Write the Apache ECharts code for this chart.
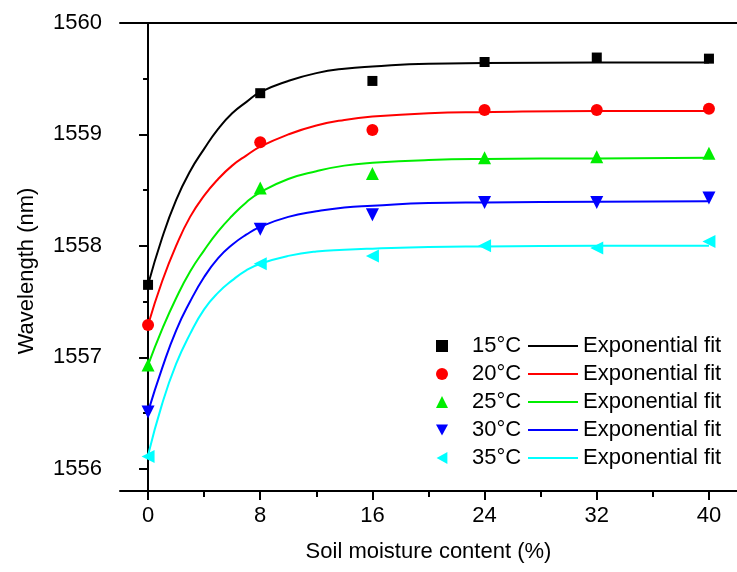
<!DOCTYPE html>
<html><head><meta charset="utf-8">
<script src="https://cdn.jsdelivr.net/npm/echarts@6/dist/echarts.min.js"></script>
<style>html,body{margin:0;padding:0;background:#fff}#c{width:737px;height:572px}</style>
</head><body><div id="c"></div>
<script>
// ---- data ----
var moisture = [0, 8, 16, 24, 32, 40];
var tempLabels = ['15°C', '20°C', '25°C', '30°C', '35°C'];
var w15 = [1557.65, 1559.37, 1559.48, 1559.65, 1559.69, 1559.68];
var w20 = [1557.29, 1558.93, 1559.04, 1559.22, 1559.22, 1559.23];
var w25 = [1556.93, 1558.52, 1558.65, 1558.79, 1558.80, 1558.83];
var w30 = [1556.51, 1558.15, 1558.28, 1558.39, 1558.39, 1558.43];
var w35 = [1556.11, 1557.84, 1557.91, 1558.00, 1557.98, 1558.04];
// exponential-fit curves
var fitX  = [0, 1, 2, 3, 4, 5, 6, 7, 8, 10, 12, 14, 16, 20, 24, 32, 40];
var fit15 = [1557.65, 1558.07, 1558.41, 1558.67, 1558.87, 1559.05, 1559.19, 1559.29, 1559.38, 1559.48, 1559.55, 1559.59, 1559.61, 1559.635, 1559.64, 1559.645, 1559.645];
var fit20 = [1557.29, 1557.68, 1558.00, 1558.26, 1558.45, 1558.60, 1558.72, 1558.81, 1558.89, 1559.00, 1559.08, 1559.13, 1559.16, 1559.19, 1559.20, 1559.21, 1559.21];
var fit25 = [1556.93, 1557.25, 1557.53, 1557.77, 1557.96, 1558.13, 1558.27, 1558.39, 1558.48, 1558.60, 1558.67, 1558.72, 1558.745, 1558.77, 1558.78, 1558.785, 1558.79];
var fit30 = [1556.51, 1556.90, 1557.24, 1557.50, 1557.72, 1557.89, 1558.01, 1558.10, 1558.17, 1558.26, 1558.31, 1558.345, 1558.36, 1558.385, 1558.39, 1558.395, 1558.40];
var fit35 = [1556.12, 1556.58, 1556.94, 1557.21, 1557.43, 1557.58, 1557.69, 1557.78, 1557.84, 1557.91, 1557.95, 1557.965, 1557.975, 1557.99, 1557.995, 1558.00, 1558.00];
var xMajor = [0, 8, 16, 24, 32, 40];
var xMinor = [4, 12, 20, 28, 36];
var yMajor = [1556, 1557, 1558, 1559, 1560];
var yMinor = [1556.5, 1557.5, 1558.5, 1559.5];

// ---- styles ----
var FONT = 'Liberation Sans, Arial, sans-serif';
var colors = ['#000000', '#ff0000', '#00ee00', '#0000ff', '#00ffff'];
var symbols = ['rect', 'circle', 'triangle', 'path://M0,0 L10,0 L5,9 Z', 'path://M9,0 L9,10 L0,5 Z'];
var sizes = [10, 12, 13, 13, 13];
var points = [w15, w20, w25, w30, w35];
var fits = [fit15, fit20, fit25, fit30, fit35];
var fitNames = ['fit15', 'fit20', 'fit25', 'fit30', 'fit35'];

var series = [];
fits.forEach(function (f, i) {
  series.push({
    name: fitNames[i], type: 'line', xAxisIndex: 0, yAxisIndex: 0,
    data: fitX.map(function (x, k) { return [x, f[k]]; }),
    smooth: 0.5, symbol: 'none', showSymbol: false,
    lineStyle: { color: colors[i], width: 2 }, itemStyle: { color: colors[i] }, z: 2
  });
});
points.forEach(function (p, i) {
  series.push({
    name: tempLabels[i], type: 'scatter', xAxisIndex: 0, yAxisIndex: 0,
    data: moisture.map(function (m, k) { return [m, p[k]]; }),
    symbol: symbols[i], symbolSize: sizes[i],
    itemStyle: { color: colors[i], opacity: 1 }, z: 3
  });
});

var axisLine = { show: true, lineStyle: { color: '#000', width: 2 } };
var chart = echarts.init(document.getElementById('c'));
chart.setOption({
  animation: false,
  backgroundColor: '#ffffff',
  grid: { left: 120, top: 23, width: 628, height: 468 },
  legend: [{
    data: tempLabels, orient: 'vertical', left: 436, top: 335, padding: 0,
    itemWidth: 12, itemHeight: 12, itemGap: 6, selectedMode: false,
    textStyle: { fontFamily: FONT, fontSize: 22, color: '#000', lineHeight: 22, padding: [0, 0, 0, 19] }
  }, {
    data: fitNames, orient: 'vertical', left: 528, top: 335, padding: 0,
    icon: 'rect', itemWidth: 50, itemHeight: 2, itemGap: 6, selectedMode: false,
    formatter: function () { return 'Exponential fit'; },
    textStyle: { fontFamily: FONT, fontSize: 22, color: '#000', lineHeight: 22 }
  }],
  xAxis: [{
    type: 'value', position: 'bottom', min: -2, max: 42,
    axisLine: axisLine, splitLine: { show: false },
    axisTick: { show: true, inside: false, length: 9, customValues: xMajor, lineStyle: { color: '#000', width: 2 } },
    axisLabel: { customValues: xMajor, margin: 14, fontFamily: FONT, fontSize: 22, color: '#000' },
    name: 'Soil moisture content (%)', nameLocation: 'middle', nameGap: 50,
    nameTextStyle: { fontFamily: FONT, fontSize: 22, color: '#000' }
  }, {
    type: 'value', position: 'bottom', min: -2, max: 42,
    axisLine: { show: false }, splitLine: { show: false },
    axisTick: { show: true, length: 6, customValues: xMinor, lineStyle: { color: '#000', width: 2 } },
    axisLabel: { show: false }
  }, {
    type: 'value', position: 'top', min: -2, max: 42,
    axisLine: axisLine, splitLine: { show: false },
    axisTick: { show: false }, axisLabel: { show: false }
  }],
  yAxis: [{
    type: 'value', position: 'left', min: 1555.8, max: 1560,
    axisLine: axisLine, splitLine: { show: false },
    axisTick: { show: true, length: 9, customValues: yMajor, lineStyle: { color: '#000', width: 2 } },
    axisLabel: { customValues: yMajor, margin: 18, fontFamily: FONT, fontSize: 22, color: '#000',
      formatter: function (v) { return String(v); } },
    name: 'Wavelength (nm)', nameLocation: 'middle', nameGap: 82, nameRotate: 90,
    nameTextStyle: { fontFamily: FONT, fontSize: 22, color: '#000', padding: [0, 28, 0, 0] }
  }, {
    type: 'value', position: 'left', min: 1555.8, max: 1560,
    axisLine: { show: false }, splitLine: { show: false },
    axisTick: { show: true, length: 5, customValues: yMinor, lineStyle: { color: '#000', width: 2 } },
    axisLabel: { show: false }
  }],
  series: series
});
</script></body></html>
